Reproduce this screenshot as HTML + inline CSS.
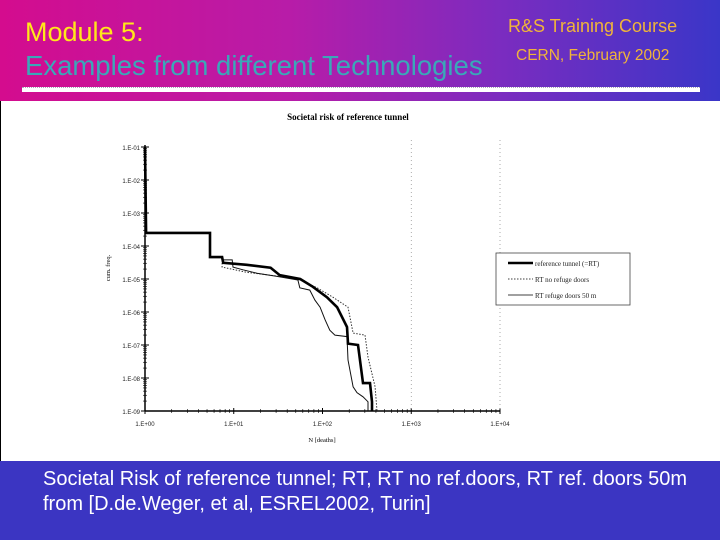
<!DOCTYPE html>
<html><head><meta charset="utf-8"><style>
body{margin:0;width:720px;height:540px;overflow:hidden;font-family:"Liberation Sans",sans-serif}
#bg{position:absolute;left:0;top:0;width:720px;height:540px;background:#3b35c2}
#hdr{position:absolute;left:0;top:0;width:720px;height:101px;background:linear-gradient(90deg,#d40c8e 0%,#b81ca8 40%,#7a2cc0 70%,#3a36c8 100%)}
.t{position:absolute;white-space:nowrap;line-height:1}
</style></head><body>
<div id="bg"></div>
<div id="hdr"></div>
<div class="t" style="left:25px;top:19px;font-size:27px;color:#ffe81a">Module 5:</div>
<div class="t" style="left:25px;top:52px;font-size:27.5px;color:#3aa8b8">Examples from different Technologies</div>
<div class="t" style="left:508px;top:17px;font-size:18px;color:#f0b43a">R&amp;S Training Course</div>
<div class="t" style="left:516px;top:48px;font-size:15.5px;color:#f0b43a">CERN, February 2002</div>
<div style="position:absolute;left:22px;top:87px;width:678px;height:5px;background:#fff;border-top:1px dotted #aab;box-sizing:border-box"></div>
<div class="t" style="left:43px;top:469px;font-size:20px;color:#fff">Societal Risk of reference tunnel; RT, RT no ref.doors, RT ref. doors 50m</div>
<div class="t" style="left:43px;top:494px;font-size:20px;color:#fff">from [D.de.Weger, et al, ESREL2002, Turin]</div>
<svg id="chart" style="position:absolute;left:0;top:101px" width="720" height="360" viewBox="0 101 720 360">
<rect x="0" y="101" width="720" height="360" fill="#fff"/>
<line x1="0.5" y1="101" x2="0.5" y2="461" stroke="#000"/>
<g id="g"></g>
</svg>
<script>
const xTicks=["1.E+00","1.E+01","1.E+02","1.E+03","1.E+04"];
const yTicks=["1.E-01","1.E-02","1.E-03","1.E-04","1.E-05","1.E-06","1.E-07","1.E-08","1.E-09"];
const refN=[1,1.03,5.4,5.4,7.4,7.6,14,26,33,56,78,112,146,189,194,251,286,343,361,361];
const refF=[1e-1,2.5e-4,2.5e-4,4.6e-5,4.6e-5,3.1e-5,2.7e-5,2.2e-5,1.3e-5,1.0e-5,5.8e-6,2.8e-6,1.4e-6,3.5e-7,1.1e-7,1e-7,7e-9,7e-9,1.9e-9,1e-9];
const noDoorN=[1,1.03,5.4,5.4,7.4,7.4,14,33,56,87,131,194,221,301,326,391,411];
const noDoorF=[1e-1,2.5e-4,2.5e-4,4.6e-5,4.6e-5,2.3e-5,1.6e-5,1.2e-5,9.3e-6,5.4e-6,2.8e-6,1.4e-6,2.3e-7,2e-7,4.3e-8,5.4e-9,1e-9];
const doorN=[1,1.03,5.4,5.4,7.4,7.4,9.6,9.8,12.7,18.3,30.7,52.8,55.5,72,82,94,107,121,138,189,194,221,245,286,326,326];
const doorF=[1e-1,2.5e-4,2.5e-4,4.6e-5,4.6e-5,3.8e-5,3.8e-5,2.3e-5,1.9e-5,1.5e-5,1.2e-5,9.3e-6,5.4e-6,4.6e-6,2.3e-6,1.4e-6,5.8e-7,2.8e-7,2e-7,1.8e-7,3.5e-8,5.4e-9,3.6e-9,2.7e-9,1.9e-9,1e-9];
const legendLabels=["reference tunnel (=RT)","RT no refuge doors","RT refuge doors 50 m"];
const NS="http://www.w3.org/2000/svg";
const g=document.getElementById('g');
const X=n=>145+Math.log10(n)*88.75;
const Y=f=>147+(-1-Math.log10(f))*33;
function mk(t,a,txt){const e=document.createElementNS(NS,t);for(const k in a)e.setAttribute(k,a[k]);if(txt!==undefined)e.textContent=txt;g.appendChild(e);return e;}
let ax=mk('line',{x1:X(1),y1:Y(1e-1)-2,x2:X(1),y2:Y(1e-9),stroke:'#000','stroke-width':1.5});

ax=mk('line',{x1:X(1),y1:Y(1e-9),x2:X(1e4),y2:Y(1e-9),stroke:'#000','stroke-width':1.5});

yTicks.forEach((s,i)=>{const v=Math.pow(10,-1-i);const y=Y(v);
 mk('line',{x1:X(1)-4,y1:y,x2:X(1)+4,y2:y,stroke:'#000'});
 if(i<8)for(let m=2;m<10;m++){const yy=Y(v/10*m);mk('line',{x1:X(1)-2,y1:yy,x2:X(1)+2,y2:yy,stroke:'#000','stroke-width':0.6});}
 const t=mk('text',{x:X(1)-5,y:y+3,'font-size':6,'text-anchor':'end',fill:'#222'},s);
 });
xTicks.forEach((s,i)=>{const v=Math.pow(10,i);const x=X(v);
 mk('line',{x1:x,y1:Y(1e-9)-3,x2:x,y2:Y(1e-9)+3,stroke:'#000'});
 if(i<4)for(let m=2;m<10;m++){const xx=X(v*m);mk('line',{x1:xx,y1:Y(1e-9)-2,x2:xx,y2:Y(1e-9)+2,stroke:'#000','stroke-width':0.6});}
 if(i>=3) mk('line',{x1:x,y1:140,x2:x,y2:Y(1e-9),stroke:'#888','stroke-width':0.7,'stroke-dasharray':'1,3'});
 const t=mk('text',{x:x,y:Y(1e-9)+15,'font-size':6,'text-anchor':'middle',fill:'#222'},s);
 });
let tt=mk('text',{x:348,y:120,'font-size':9,'font-weight':'bold','font-family':'Liberation Serif,serif','text-anchor':'middle'},'Societal risk of reference tunnel');

tt=mk('text',{x:322,y:442,'font-size':6.5,'font-family':'Liberation Serif,serif','text-anchor':'middle'},'N  [deaths]');

tt=mk('text',{x:110,y:268,'font-size':6.5,'font-family':'Liberation Serif,serif','text-anchor':'middle',transform:'rotate(-90 110 268)'},'cum. freq.');

function pts(N,F){return N.map((n,i)=>X(n).toFixed(1)+','+Y(F[i]).toFixed(1)).join(' ');}
let p=mk('polyline',{points:pts(noDoorN,noDoorF),fill:'none',stroke:'#333','stroke-width':1,'stroke-dasharray':'1.5,1.5'});

p=mk('polyline',{points:pts(doorN,doorF),fill:'none',stroke:'#111','stroke-width':1});

p=mk('polyline',{points:pts(refN,refF),fill:'none',stroke:'#000','stroke-width':2.6});

const lg=mk('rect',{x:496,y:253,width:134,height:52,fill:'#fff',stroke:'#444','stroke-width':0.8});

const styles=[{w:2.6,d:''},{w:0.8,d:'1.5,1.5'},{w:0.8,d:''}];
legendLabels.forEach((s,i)=>{const y=263+i*16;
 const l=mk('line',{x1:508,y1:y,x2:533,y2:y,stroke:'#000','stroke-width':styles[i].w,'stroke-dasharray':styles[i].d});
 
 const t=mk('text',{x:535,y:y+3,'font-size':7,'font-family':'Liberation Serif,serif',fill:'#222'},s);
 });
</script>
</body></html>
